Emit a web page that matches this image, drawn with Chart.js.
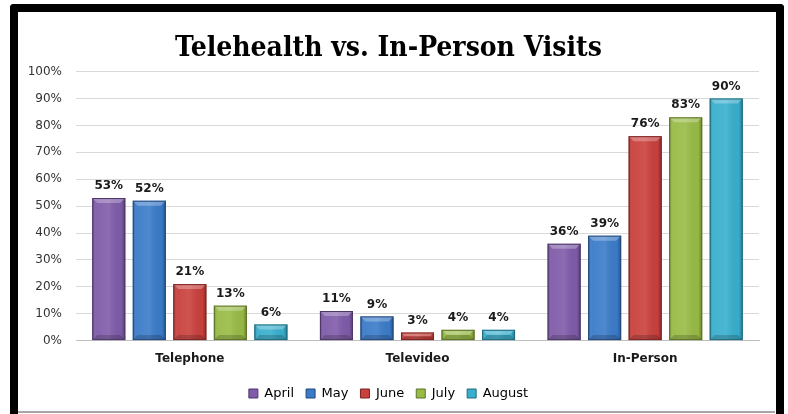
<!DOCTYPE html>
<html>
<head>
<meta charset="utf-8">
<script src="https://cdn.jsdelivr.net/npm/chart.js@4.4.1/dist/chart.umd.min.js"></script>
<style>
  body { margin: 0; background: #fff; width: 788px; height: 414px; overflow: hidden; position: relative; }
  #frame { position: absolute; left: 10px; top: 4px; width: 758px; height: 420px;
           border: 8px solid #000; border-bottom: none; border-radius: 4px 4px 0 0; }
  #bottomline { position: absolute; left: 18px; top: 411px; width: 757px; height: 2px; background: #a6a6a6; }
  #wrap { position: absolute; left: 18px; top: 12px; width: 757px; height: 399px; }
</style>
</head>
<body>
<div id="frame"></div>
<div id="wrap"><canvas id="chart"></canvas></div>
<div id="bottomline"></div>
<script>
const categories = ["Telephone", "Televideo", "In-Person"];
const months = ["April", "May", "June", "July", "August"];
const april = [53, 11, 36];
const may = [52, 9, 39];
const june = [21, 3, 76];
const july = [13, 4, 83];
const august = [6, 4, 90];
const yTicks = ["0%", "10%", "20%", "30%", "40%", "50%", "60%", "70%", "80%", "90%", "100%"];

const fills = ["#7f5ba9", "#3a7bc9", "#c9403c", "#98bb45", "#38afcd"];
const edges = ["#4e3668", "#23497a", "#7c2523", "#5c7328", "#206c80"];

// excel-ish bevel on every bar, drawn over the library's bar elements
const bevel = {
  id: "bevel",
  afterDatasetsDraw(chart) {
    const ctx = chart.ctx;
    chart.data.datasets.forEach((ds, i) => {
      chart.getDatasetMeta(i).data.forEach((bar) => {
        const x0 = bar.x - bar.width / 2, x1 = bar.x + bar.width / 2;
        const y0 = bar.y, y1 = bar.base;
        const g = ctx.createLinearGradient(x0, 0, x1, 0);
        g.addColorStop(0, "rgba(0,0,0,0.28)");
        g.addColorStop(0.12, "rgba(255,255,255,0.05)");
        g.addColorStop(0.5, "rgba(255,255,255,0.10)");
        g.addColorStop(0.88, "rgba(0,0,0,0.02)");
        g.addColorStop(1, "rgba(0,0,0,0.32)");
        ctx.save();
        ctx.fillStyle = g;
        ctx.fillRect(x0, y0, x1 - x0, y1 - y0);
        const b = Math.min(5, (y1 - y0) / 2);
        ctx.fillStyle = "rgba(255,255,255,0.28)";
        ctx.beginPath();
        ctx.moveTo(x0, y0); ctx.lineTo(x1, y0); ctx.lineTo(x1 - b, y0 + b); ctx.lineTo(x0 + b, y0 + b);
        ctx.closePath(); ctx.fill();
        ctx.fillStyle = "rgba(0,0,0,0.18)";
        ctx.beginPath();
        ctx.moveTo(x0, y1); ctx.lineTo(x1, y1); ctx.lineTo(x1 - b, y1 - b); ctx.lineTo(x0 + b, y1 - b);
        ctx.closePath(); ctx.fill();
        ctx.strokeStyle = edges[i];
        ctx.lineWidth = 1;
        ctx.strokeRect(x0 + 0.5, y0 + 0.5, x1 - x0 - 1, y1 - y0 - 1);
        ctx.restore();
      });
    });
  }
};

const valueLabels = {
  id: "valueLabels",
  afterDatasetsDraw(chart) {
    const ctx = chart.ctx;
    ctx.save();
    ctx.font = "bold 12px 'DejaVu Sans'";
    ctx.fillStyle = "#1a1a1a";
    ctx.textAlign = "center";
    ctx.textBaseline = "bottom";
    chart.data.datasets.forEach((ds, i) => {
      chart.getDatasetMeta(i).data.forEach((bar, j) => {
        ctx.fillText(ds.data[j] + "%", bar.x, bar.y - 6);
      });
    });
    ctx.restore();
  }
};

const series = [april, may, june, july, august];
const datasets = series.map((vals, i) => ({
  label: months[i],
  data: vals,
  backgroundColor: fills[i],
  borderWidth: 0,
  categoryPercentage: 0.89,
  barPercentage: 0.815
}));

new Chart(document.getElementById("chart"), {
  type: "bar",
  data: { labels: categories, datasets: datasets },
  plugins: [bevel, valueLabels],
  options: {
    responsive: true,
    maintainAspectRatio: false,
    animation: false,
    layout: { padding: { left: 0, right: 16, top: 0, bottom: 1 } },
    plugins: {
      title: {
        display: true,
        text: "Telehealth vs. In-Person Visits",
        color: "#000",
        font: { family: "'DejaVu Serif Condensed', 'DejaVu Serif'", size: 28, weight: "bold" },
        padding: { top: 20, bottom: 6 }
      },
      legend: {
        position: "bottom",
        labels: {
          color: "#333",
          font: { family: "'DejaVu Sans'", size: 13 },
          boxWidth: 9,
          boxHeight: 9,
          padding: 12,
          generateLabels(chart) {
            return chart.data.datasets.map((ds, i) => ({
              text: ds.label,
              fillStyle: fills[i],
              strokeStyle: edges[i],
              lineWidth: 1,
              datasetIndex: i
            }));
          }
        }
      },
      tooltip: { enabled: false }
    },
    scales: {
      x: {
        afterFit(scale) { scale.height += 6; },
        grid: { display: false },
        border: { color: "#bfbfbf" },
        ticks: { color: "#1a1a1a", font: { family: "'DejaVu Sans'", size: 12, weight: "bold" }, padding: 3 }
      },
      y: {
        min: 0,
        max: 100,
        afterFit(scale) { scale.width = 58; },
        grid: { color: "#d9d9d9", drawTicks: false },
        border: { display: false },
        ticks: {
          stepSize: 10,
          padding: 14,
          color: "#333",
          font: { family: "'DejaVu Sans'", size: 12 },
          callback: (v) => yTicks[Math.round(v / 10)]
        }
      }
    }
  }
});
</script>
</body>
</html>
